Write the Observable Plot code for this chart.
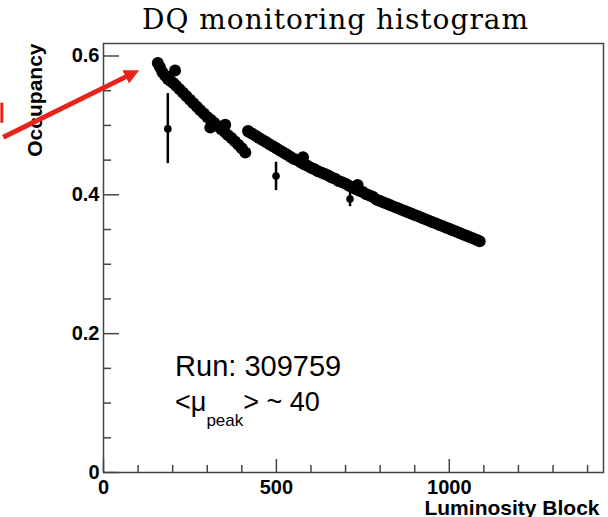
<!DOCTYPE html>
<html><head><meta charset="utf-8">
<script src="https://cdn.jsdelivr.net/npm/d3@7"></script>
<script src="https://cdn.jsdelivr.net/npm/@observablehq/plot@0.6"></script>
<style>
html,body{margin:0;padding:0;background:#fff;overflow:hidden}
#title{width:671px;height:40px;line-height:40px;text-align:center;font-family:"DejaVu Serif",serif;font-size:28px;letter-spacing:1px;color:#000;white-space:nowrap}
#chart svg{display:block}
</style></head><body>
<div id="title">DQ monitoring histogram</div>
<div id="chart"></div>
<script>
// Main band: luminosity block and occupancy
const lumiBlock = [157,163,170,178,186,194,202,207,210,220,230,240,250,260,270,280,290,300,309,310,320,330,340,350,352,360,370,380,390,400,410,
  418,420,430,440,450,460,470,480,490,500,510,520,530,540,550,560,570,577,580,590,600,610,620,630,640,650,660,670,680,690,700,710,720,730,735,740,750,760,770,780,790,800,
  810,820,830,840,850,860,870,880,890,900,910,920,930,940,950,960,970,980,990,1000,1010,1020,1030,1040,1050,1060,1070,1080,1088];
const occupancy = [0.590,0.584,0.577,0.572,0.567,0.564,0.561,0.579,0.557,0.552,0.547,0.542,0.537,0.532,0.527,0.522,0.517,0.512,0.497,0.508,0.504,0.499,0.495,0.491,0.501,0.486,0.482,0.477,0.472,0.467,0.461,
  0.492,0.491,0.488,0.485,0.482,0.479,0.476,0.473,0.470,0.467,0.464,0.461,0.458,0.455,0.452,0.450,0.447,0.454,0.444,0.442,0.439,0.437,0.434,0.432,0.430,0.428,0.425,0.423,0.420,0.418,0.416,0.413,0.411,0.408,0.414,0.406,0.404,0.401,0.399,0.397,0.393,0.391,
  0.389,0.387,0.385,0.383,0.381,0.379,0.377,0.375,0.373,0.371,0.369,0.367,0.365,0.363,0.361,0.359,0.357,0.355,0.353,0.351,0.349,0.347,0.345,0.343,0.341,0.339,0.337,0.335,0.333];

// Outliers with error bars
const outlierLB = [186, 499, 713];
const outlierOcc = [0.495, 0.427, 0.394];
const outlierLow = [0.445, 0.406, 0.383];
const outlierHigh = [0.546, 0.447, 0.405];

// Axis ticks
const xMajorTicks = [0, 500, 1000];
const xMinorTicks = [100, 200, 300, 400, 600, 700, 800, 900, 1100, 1200, 1300, 1400];
const yMajorTicks = [0, 0.2, 0.4, 0.6];
const yMinorTicks = [0.05, 0.1, 0.15, 0.25, 0.3, 0.35, 0.45, 0.5, 0.55];

// Labels and annotations
const xLabel = ["Luminosity Block"];
const yLabel = ["Occupancy"];
const annoText = ["Run: 309759", "<μpeak> ~ 40"];
const annoX = [207, 207];
const annoY = [0.1395, 0.088];
const annoSize = [29, 27];

// Red arrow (extends outside the frame); head drawn as marker at the end
const arrowX1 = [-290], arrowY1 = [0.483], arrowX2 = [76], arrowY2 = [0.5728];
const redMarkX = [-294], redMarkY1 = [0.503], redMarkY2 = [0.532];

const points = lumiBlock.map((x, i) => ({x, y: occupancy[i]}));
const outliers = outlierLB.map((x, i) => ({x, y: outlierOcc[i], lo: outlierLow[i], hi: outlierHigh[i]}));
const annos = annoText.map((t, i) => ({t, x: annoX[i], y: annoY[i], s: annoSize[i]}));
const arrows = arrowX1.map((x1, i) => ({x1, y1: arrowY1[i], x2: arrowX2[i], y2: arrowY2[i]}));
const redMarks = redMarkX.map((x, i) => ({x, y1: redMarkY1[i], y2: redMarkY2[i]}));

const axisColor = "#444";
const red = "#e8231c";

const chart = Plot.plot({
  width: 608,
  height: 477,
  marginLeft: 103,
  marginRight: 5,
  marginTop: 3,
  marginBottom: 45,
  x: {domain: [0, 1446]},
  y: {domain: [0, 0.618]},
  style: {fontFamily: "'Liberation Sans', Arial, sans-serif", color: "#000", background: "#fff", overflow: "visible"},
  marks: [
    Plot.frame({stroke: axisColor, strokeWidth: 1.5}),
    Plot.axisX(xMajorTicks, {tickSize: -13, fill: "none", label: null, stroke: axisColor, strokeWidth: 1.5}),
    Plot.axisX(xMinorTicks, {tickSize: -7, fill: "none", label: null, stroke: axisColor, strokeWidth: 1.5}),
    Plot.axisY(yMajorTicks, {tickSize: -16, fill: "none", label: null, stroke: axisColor, strokeWidth: 1.5}),
    Plot.axisY(yMinorTicks, {tickSize: -8, fill: "none", label: null, stroke: axisColor, strokeWidth: 1.5}),
    Plot.text(xMajorTicks, {x: d => d, text: d => String(d), frameAnchor: "bottom", lineAnchor: "top", dy: 7, fontSize: 20, fontWeight: "bold", fill: "#000"}),
    Plot.text(yMajorTicks, {y: d => d, text: d => d === 0 ? "0" : d.toFixed(1), frameAnchor: "left", textAnchor: "end", dx: -4, fontSize: 20, fontWeight: "bold", fill: "#000"}),
    Plot.text(xLabel, {text: d => d, frameAnchor: "bottom-right", textAnchor: "end", lineAnchor: "bottom", dx: -4, dy: 42, fontSize: 21, fontWeight: "bold"}),
    Plot.text(yLabel, {text: d => d, frameAnchor: "top-left", rotate: -90, textAnchor: "end", lineAnchor: "bottom", dx: -62, dy: 0, fontSize: 21, fontWeight: "bold"}),
    Plot.ruleX(outliers, {x: "x", y1: "lo", y2: "hi", stroke: "#000", strokeWidth: 2.5}),
    Plot.dot(outliers, {x: "x", y: "y", r: 3.8, fill: "#000"}),
    Plot.dot(points, {x: "x", y: "y", r: 6, fill: "#000"}),
    Plot.text(annos, {x: "x", y: "y", text: "t", fontSize: "s", textAnchor: "start", lineAnchor: "bottom", fill: "#000"}),
    Plot.link(arrows, {x1: "x1", y1: "y1", x2: "x2", y2: "y2", stroke: red, strokeWidth: 5}),
    Plot.ruleX(redMarks, {x: "x", y1: "y1", y2: "y2", stroke: red, strokeWidth: 3})
  ]
});

const ns = "http://www.w3.org/2000/svg";
// Subscript for <μpeak>
chart.querySelectorAll("text").forEach(t => {
  if (t.textContent === annoText[1]) {
    t.textContent = "";
    const a = document.createElementNS(ns, "tspan"); a.textContent = "<μ";
    const b = document.createElementNS(ns, "tspan"); b.textContent = "peak"; b.setAttribute("dy", "15"); b.setAttribute("font-size", "17");
    const c = document.createElementNS(ns, "tspan"); c.textContent = "> ~ 40"; c.setAttribute("dy", "-15");
    t.append(a, b, c);
  }
});
// Filled arrowhead marker for the red link
const defs = document.createElementNS(ns, "defs");
const marker = document.createElementNS(ns, "marker");
marker.setAttribute("id", "redHead");
marker.setAttribute("viewBox", "0 0 10 10");
marker.setAttribute("refX", "3");
marker.setAttribute("refY", "5");
marker.setAttribute("markerWidth", "3.2");
marker.setAttribute("markerHeight", "3");
marker.setAttribute("orient", "auto");
marker.setAttribute("markerUnits", "strokeWidth");
const head = document.createElementNS(ns, "path");
head.setAttribute("d", "M0,0L10,5L0,10Z");
head.setAttribute("fill", red);
marker.append(head);
defs.append(marker);
chart.prepend(defs);
chart.querySelectorAll('g[aria-label="link"] path').forEach(p => p.setAttribute("marker-end", "url(#redHead)"));
document.getElementById("chart").append(chart);
</script>
</body></html>
